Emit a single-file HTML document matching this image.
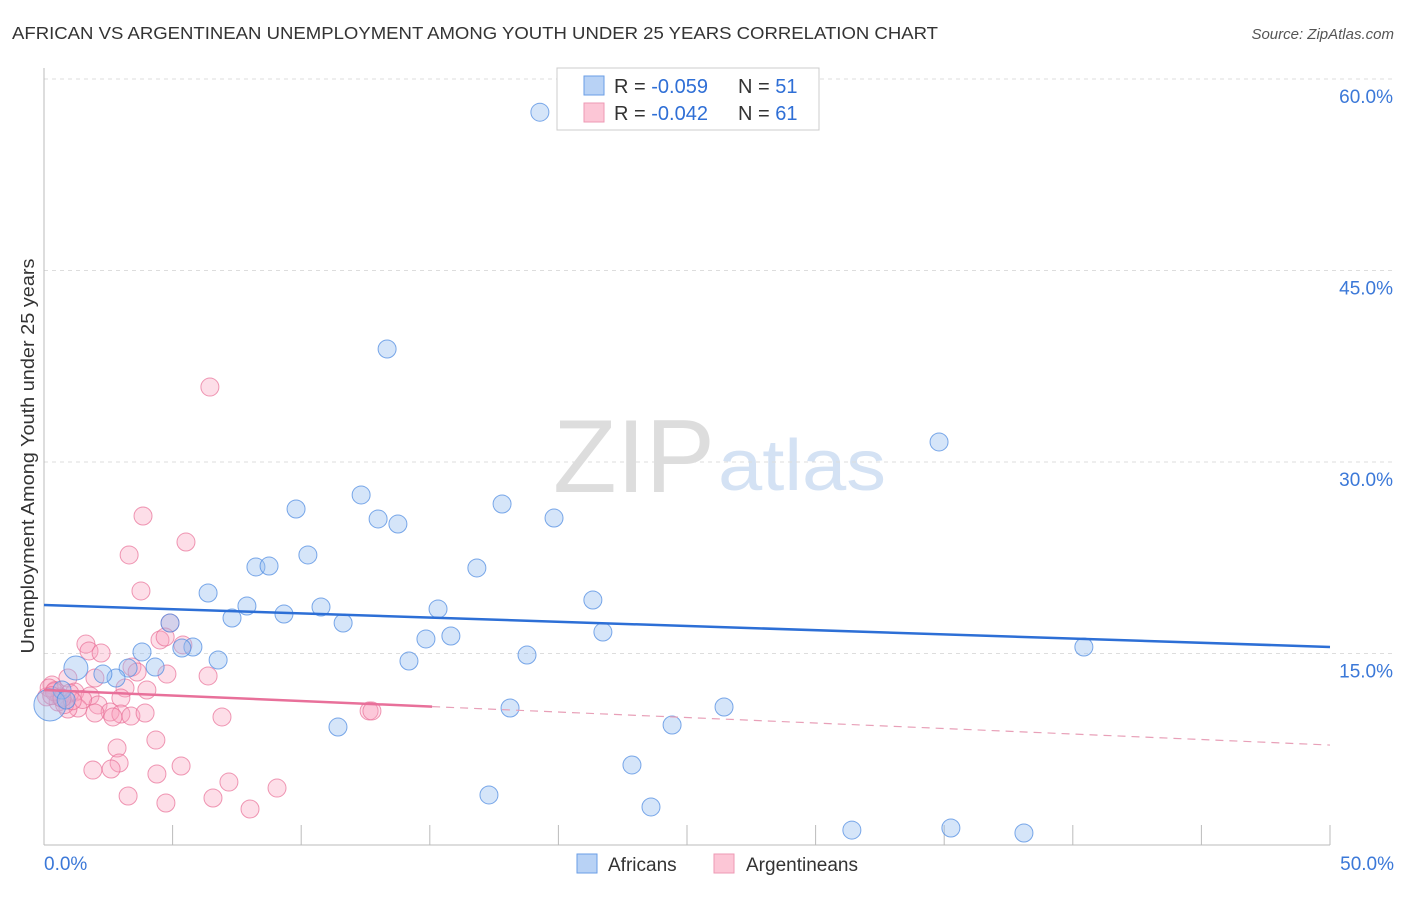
<!DOCTYPE html>
<html><head><meta charset="utf-8"><style>
body{margin:0;background:#fff;font-family:"Liberation Sans",sans-serif;}
svg text{font-family:"Liberation Sans",sans-serif;}
</style></head><body>
<svg id="c" width="1406" height="892" xmlns="http://www.w3.org/2000/svg">
<text x="12" y="39" font-size="17.5" fill="#333" textLength="926" lengthAdjust="spacingAndGlyphs">AFRICAN VS ARGENTINEAN UNEMPLOYMENT AMONG YOUTH UNDER 25 YEARS CORRELATION CHART</text>
<text x="1394" y="39" font-size="15" fill="#555" font-style="italic" text-anchor="end">Source: ZipAtlas.com</text>
<text x="553" y="492" font-size="104" fill="#ddd" font-family="Liberation Serif, serif" textLength="162" lengthAdjust="spacingAndGlyphs">ZIP</text>
<text x="718" y="490" font-size="72" fill="#d4e2f4" textLength="168" lengthAdjust="spacingAndGlyphs">atlas</text>
<text transform="translate(34,456) rotate(-90)" font-size="18" fill="#333" text-anchor="middle" textLength="395" lengthAdjust="spacingAndGlyphs">Unemployment Among Youth under 25 years</text>
<g id="grid"></g><g id="pts"></g><g id="lines"></g>
<g>
<rect x="557" y="68" width="262" height="62" fill="#fff" stroke="#ccc"/>
<rect x="584" y="76" width="20" height="19" fill="#b8d2f5" stroke="#6a9ee6"/>
<rect x="584" y="103" width="20" height="19" fill="#fcc6d6" stroke="#ee99b4"/>
<text x="614" y="93" font-size="20" fill="#333">R = <tspan fill="#2f6fd6">-0.059</tspan></text>
<text x="738" y="93" font-size="20" fill="#333">N = <tspan fill="#2f6fd6">51</tspan></text>
<text x="614" y="120" font-size="20" fill="#333">R = <tspan fill="#2f6fd6">-0.042</tspan></text>
<text x="738" y="120" font-size="20" fill="#333">N = <tspan fill="#2f6fd6">61</tspan></text>
</g>
<g>
<rect x="577" y="854" width="20" height="19" fill="#b8d2f5" stroke="#6a9ee6"/>
<text x="608" y="871" font-size="19" fill="#333">Africans</text>
<rect x="714" y="854" width="20" height="19" fill="#fcc6d6" stroke="#ee99b4"/>
<text x="746" y="871" font-size="19" fill="#333">Argentineans</text>
</g>
</svg>
<script>
const yTicks=[15,30,45,60];
const xLabels=["0.0%","50.0%"];
const afrX=[19.28,20.84,13.34,34.8,9.8,12.33,12.99,13.76,17.81,19.83,10.26,8.24,8.75,16.83,6.38,7.89,7.31,9.33,10.77,11.63,15.32,21.34,21.73,14.85,15.82,18.78,14.19,40.43,4.9,5.79,5.36,3.81,4.32,6.77,3.27,2.8,2.29,1.24,0.7,0.23,11.43,18.12,26.44,24.42,22.86,17.3,23.6,31.41,35.26,38.1,0.86];
const afrY=[57.4,59.3,38.85,31.57,26.32,27.42,25.54,25.14,26.71,25.61,22.72,21.78,21.85,21.7,19.74,18.72,17.78,18.09,18.64,17.39,18.49,19.19,16.68,16.14,16.37,14.88,14.41,15.51,17.39,15.51,15.43,15.12,13.94,14.49,13.86,13.08,13.39,13.86,12.14,10.97,9.24,10.73,10.81,9.4,6.27,3.92,2.98,1.17,1.33,0.94,11.36];
const afrR=[9,9,9,9,9,9,9,9,9,9,9,9,9,9,9,9,9,9,9,9,9,9,9,9,9,9,9,9,9,9,9,9,9,9,9,9,9,12,9,16,9,9,9,9,9,9,9,9,9,9,9];
const argX=[6.45,3.85,5.52,3.31,3.77,4.9,4.51,4.71,5.4,1.63,1.75,2.22,3.42,3.62,4.78,6.38,1.98,0.93,0.31,3.15,4.0,1.2,1.79,0.62,2.99,2.1,1.32,2.57,1.98,0.93,2.99,3.38,2.68,3.93,6.92,12.64,12.75,4.35,2.84,2.92,2.61,1.9,4.39,5.33,7.19,9.06,3.27,4.74,6.57,8.01,0.43,0.1,0.55,1.0,0.2,1.5,0.8,0.4,1.1,0.3,0.7];
const argY=[35.87,25.77,23.73,22.72,19.9,17.39,16.06,16.29,15.67,15.74,15.2,15.04,13.94,13.55,13.39,13.24,13.08,13.08,12.53,12.3,12.14,11.98,11.67,11.59,11.51,10.97,10.73,10.42,10.34,10.65,10.26,10.1,10.03,10.34,10.03,10.5,10.5,8.22,7.6,6.42,5.95,5.87,5.56,6.19,4.93,4.46,3.84,3.29,3.68,2.82,12.1,11.6,11.2,11.9,12.3,11.4,11.0,12.0,11.3,11.7,11.5];
const afrTrend=[18.8,15.51];
const argTrend=[12.14,7.83];
const argSolidEnd=15.09;
const X=v=>44+v/50*1286, Y=v=>845-v/15*191.5;
const NS="http://www.w3.org/2000/svg";
function mk(t,a,p){const e=document.createElementNS(NS,t);for(const k in a)e.setAttribute(k,a[k]);p.appendChild(e);return e;}
const grid=document.getElementById('grid'),pts=document.getElementById('pts'),lines=document.getElementById('lines');
yTicks.forEach(t=>{
 const l=mk('line',{x1:44,x2:1394,y1:Y(t),y2:Y(t),stroke:'#ddd','stroke-dasharray':'4,4'},grid);
 
 
 const tx=mk('text',{x:1393,y:Y(t)+24,'font-size':19,fill:'#3b78d8','text-anchor':'end'},grid);
 tx.textContent=t.toFixed(1)+'%';
 
 
});
mk('line',{x1:44,x2:44,y1:68,y2:845,stroke:'#bbb'},grid);
mk('line',{x1:44,x2:1330,y1:845,y2:845,stroke:'#bbb'},grid);
for(let i=1;i<=10;i++){const l=mk('line',{x1:X(i*5),x2:X(i*5),y1:825,y2:845,stroke:'#bbb'},grid);
 
 }
[[0,'start',44],[50,'end',1394]].forEach((d,i)=>{const t=mk('text',{x:d[2],y:870,'font-size':19,fill:'#3b78d8','text-anchor':d[1]},grid);t.textContent=xLabels[i];
 
 });
argX.forEach((x,i)=>{const c=mk('circle',{cx:X(x),cy:Y(argY[i]),r:9,fill:'rgba(248,160,188,0.35)',stroke:'rgba(232,110,150,0.7)'},pts);
 
 });
afrX.forEach((x,i)=>{const c=mk('circle',{cx:X(x),cy:Y(afrY[i]),r:afrR[i],fill:'rgba(150,190,240,0.4)',stroke:'rgba(80,140,225,0.75)'},pts);
 
 });
const bl=mk('line',{x1:X(0),y1:Y(afrTrend[0]),x2:X(50),y2:Y(afrTrend[1]),stroke:'#2d6fd6','stroke-width':2.5},lines);


const ay=x=>argTrend[0]+(argTrend[1]-argTrend[0])*x/50;
const pl=mk('line',{x1:X(0),y1:Y(ay(0)),x2:X(argSolidEnd),y2:Y(ay(argSolidEnd)),stroke:'#e8709a','stroke-width':2.5},lines);


const pd=mk('line',{x1:X(argSolidEnd),y1:Y(ay(argSolidEnd)),x2:X(50),y2:Y(ay(50)),stroke:'#e8a0b8','stroke-width':1.2,'stroke-dasharray':'8,6'},lines);


</script>
</body></html>
